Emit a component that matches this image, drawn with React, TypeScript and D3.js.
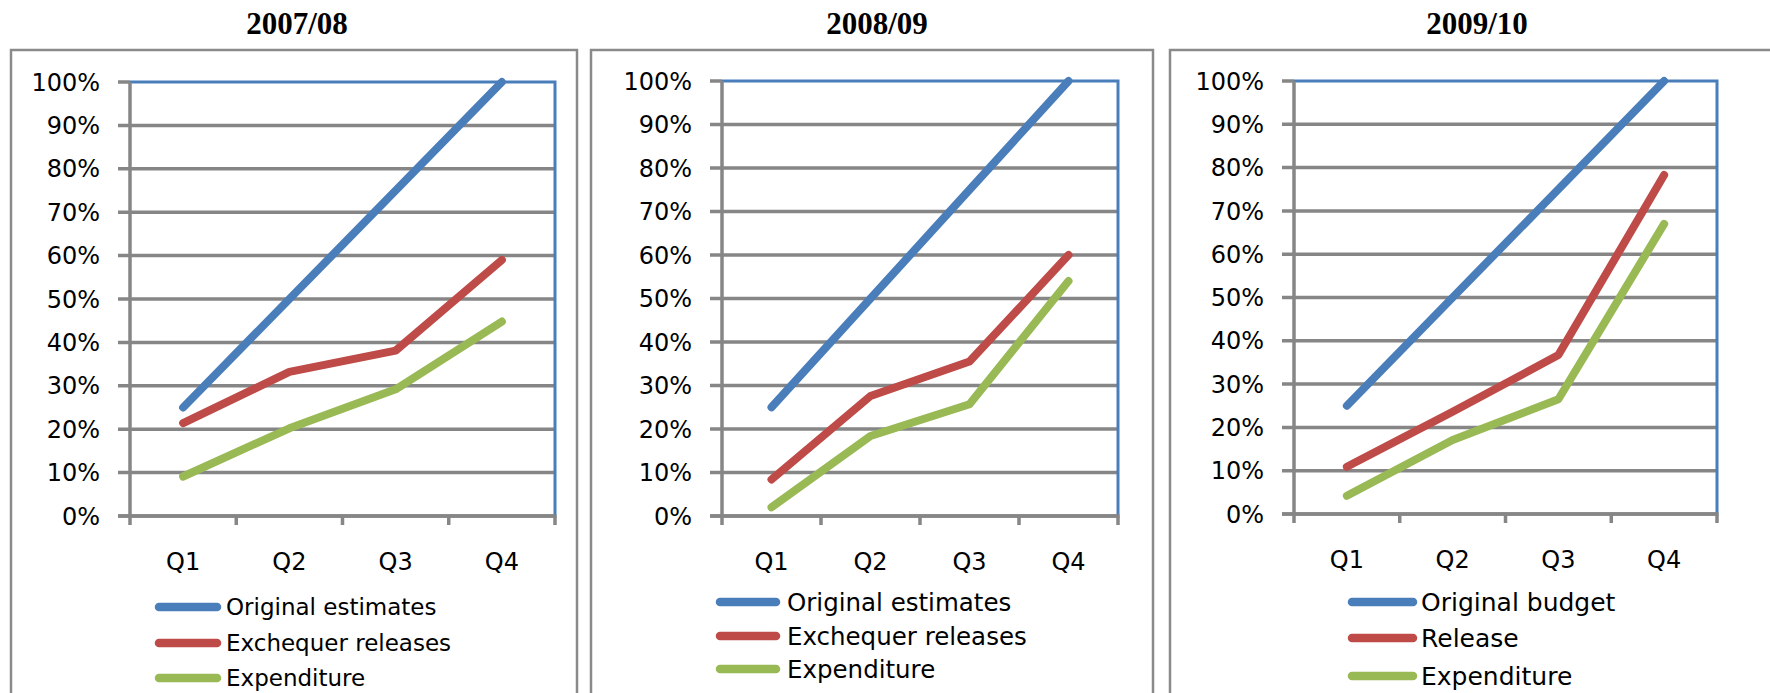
import * as d3 from "d3";

// categories and tick values
const quarters = ["Q1", "Q2", "Q3", "Q4"];
const yTicks = [0, 10, 20, 30, 40, 50, 60, 70, 80, 90, 100];
const titles = ["2007/08", "2008/09", "2009/10"];

// legend labels per panel
const names0708 = ["Original estimates", "Exchequer releases", "Expenditure"];
const names0809 = ["Original estimates", "Exchequer releases", "Expenditure"];
const names0910 = ["Original budget", "Release", "Expenditure"];

// series values (% of annual)
const original0708 = [25, 50, 75, 100];
const releases0708 = [21.4, 33.2, 38.1, 59];
const spend0708 = [9.1, 20.2, 29.2, 44.8];

const original0809 = [25, 50, 75, 100];
const releases0809 = [8.4, 27.6, 35.5, 60];
const spend0809 = [2, 18.4, 25.7, 54];

const budget0910 = [25, 50, 75, 100];
const release0910 = [10.9, 23.6, 36.7, 78.3];
const spend0910 = [4.2, 17.1, 26.5, 67];

const colors = ["#4a7ebb", "#be4b48", "#98b954"];
const gray = "#868686";

// panel placement (pixels)
const layout = [
  { frameL: 11, frameR: 577, titleX: 297, x0: 130, x1: 555, yTop: 82, yBot: 516, qY: 570,
    legX0: 159, legX1: 217, legText: 226, legY: [607, 643, 678], legFont: 23 },
  { frameL: 591, frameR: 1153, titleX: 877, x0: 722, x1: 1118, yTop: 81, yBot: 516, qY: 570,
    legX0: 720, legX1: 776, legText: 787, legY: [602, 636, 669], legFont: 24.5 },
  { frameL: 1170, frameR: 1800, titleX: 1477, x0: 1294, x1: 1717, yTop: 81, yBot: 514, qY: 568,
    legX0: 1352, legX1: 1413, legText: 1421, legY: [602, 638, 676], legFont: 25 },
];

const panels = [
  { title: titles[0], names: names0708, series: [original0708, releases0708, spend0708] },
  { title: titles[1], names: names0809, series: [original0809, releases0809, spend0809] },
  { title: titles[2], names: names0910, series: [budget0910, release0910, spend0910] },
];

function Panel({ p, l }) {
  const x = d3.scaleBand().domain(quarters).range([l.x0, l.x1]).padding(0);
  const y = d3.scaleLinear().domain([0, 100]).range([l.yBot, l.yTop]);
  const line = d3.line<number>()
    .x((_, i) => x(quarters[i])! + x.bandwidth() / 2)
    .y(d => y(d));
  const tickEdges = [...quarters.map(q => x(q)!), l.x1];

  return (
    <g>
      <rect x={l.frameL} y={50} width={l.frameR - l.frameL} height={700}
        fill="none" stroke="#8a8a8a" strokeWidth={2.5} />
      <text x={l.titleX} y={34} textAnchor="middle"
        style={{ fontFamily: "Liberation Serif", fontWeight: "bold", fontSize: 31 }}>
        {p.title}
      </text>

      {/* gridlines + y ticks */}
      {yTicks.map(t => (
        <g key={t}>
          <line x1={l.x0 - 12} x2={t === 100 ? l.x0 : l.x1} y1={y(t)} y2={y(t)}
            stroke={gray} strokeWidth={3.5} />
          <text x={l.x0 - 30} y={y(t)} dy="0.36em" textAnchor="end"
            style={{ fontFamily: "DejaVu Sans", fontSize: 24 }}>{t}%</text>
        </g>
      ))}

      {/* plot area border (top + right) */}
      <polyline points={`${l.x0},${y(100)} ${l.x1},${y(100)} ${l.x1},${y(0)}`}
        fill="none" stroke="#4a7ebb" strokeWidth={3} />

      {/* axes */}
      <line x1={l.x0} x2={l.x0} y1={y(100)} y2={y(0) + 1.5} stroke={gray} strokeWidth={3.5} />
      <line x1={l.x0 - 12} x2={l.x1 + 1.5} y1={y(0)} y2={y(0)} stroke={gray} strokeWidth={3.5} />
      {tickEdges.map((tx, i) => (
        <line key={i} x1={tx} x2={tx} y1={y(0)} y2={y(0) + 9} stroke={gray} strokeWidth={3.5} />
      ))}
      {quarters.map(q => (
        <text key={q} x={x(q)! + x.bandwidth() / 2} y={l.qY} textAnchor="middle"
          style={{ fontFamily: "DejaVu Sans", fontSize: 24 }}>{q}</text>
      ))}

      {/* data lines */}
      {p.series.map((s, i) => (
        <path key={i} d={line(s)!} fill="none" stroke={colors[i]} strokeWidth={8}
          strokeLinecap="round" strokeLinejoin="round" />
      ))}

      {/* legend */}
      {p.names.map((n, i) => (
        <g key={n}>
          <line x1={l.legX0} x2={l.legX1} y1={l.legY[i]} y2={l.legY[i]}
            stroke={colors[i]} strokeWidth={8.5} strokeLinecap="round" />
          <text x={l.legText} y={l.legY[i]} dy="0.36em"
            style={{ fontFamily: "DejaVu Sans", fontSize: l.legFont }}>{n}</text>
        </g>
      ))}
    </g>
  );
}

export default function App() {
  return (
    <svg width={1770} height={693} viewBox="0 0 1770 693"
      style={{ position: "absolute", left: 0, top: 0, background: "#fff" }}>
      <rect width={1770} height={693} fill="#fff" />
      {panels.map((p, i) => <Panel key={i} p={p} l={layout[i]} />)}
    </svg>
  );
}
